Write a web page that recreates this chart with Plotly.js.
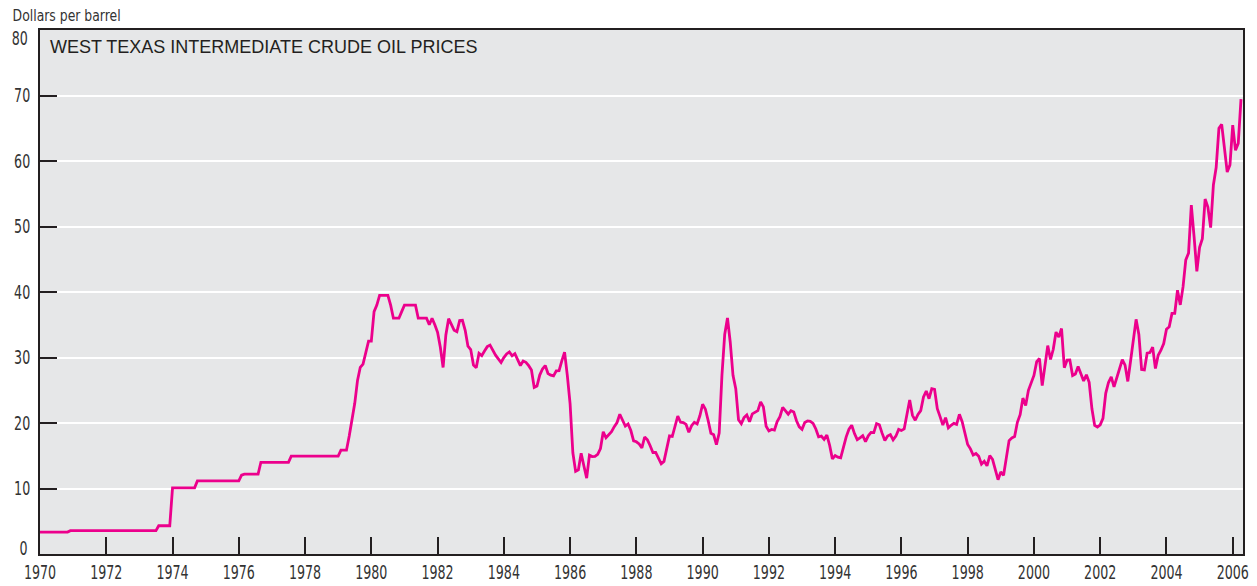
<!DOCTYPE html>
<html>
<head>
<meta charset="utf-8">
<script src="https://cdn.plot.ly/plotly-3.0.1.min.js"></script>
<style>
  html, body { margin: 0; padding: 0; background: #ffffff; }
  #chart { width: 1257px; height: 586px; }
</style>
</head>
<body>
<div id="chart"></div>
<script>
// West Texas Intermediate crude oil price, dollars per barrel, monthly (Jan 1970 - Apr 2006)
const startYear = 1970;
const wti1970s = [
  3.35,3.35,3.35,3.35,3.35,3.35,3.35,3.35,3.35,3.35,3.35,3.56,
  3.56,3.56,3.56,3.56,3.56,3.56,3.56,3.56,3.56,3.56,3.56,3.56,
  3.56,3.56,3.56,3.56,3.56,3.56,3.56,3.56,3.56,3.56,3.56,3.56,
  3.56,3.56,3.56,3.56,3.56,3.56,3.56,4.31,4.31,4.31,4.31,4.31,
  10.11,10.11,10.11,10.11,10.11,10.11,10.11,10.11,10.11,11.16,11.16,11.16,
  11.16,11.16,11.16,11.16,11.16,11.16,11.16,11.16,11.16,11.16,11.16,11.16,
  11.16,12.03,12.2,12.2,12.2,12.2,12.2,12.2,14.0,14.0,14.0,14.0,
  14.0,14.0,14.0,14.0,14.0,14.0,14.0,14.95,14.95,14.95,14.95,14.95,
  14.95,14.95,14.95,14.95,14.95,14.95,14.95,14.95,14.95,14.95,14.95,14.95,
  14.95,15.85,15.85,15.85,18.0,20.3,23.0,26.5,28.5,29.0,31.0,32.5
];
const wti1980s = [
  32.5,37.0,38.0,39.5,39.5,39.5,39.5,38.0,36.0,36.0,36.0,37.0,
  38.0,38.0,38.0,38.0,38.0,36.0,36.0,36.0,36.0,35.0,36.0,35.0,
  33.85,31.56,28.48,33.45,35.93,35.07,34.16,33.95,35.63,35.68,34.15,31.72,
  31.21,28.85,28.44,30.63,30.28,31.0,31.66,31.9,31.1,30.36,29.8,29.24,
  29.98,30.55,30.85,30.26,30.58,29.76,28.77,29.46,29.27,28.75,28.09,25.43,
  25.64,27.32,28.24,28.78,27.56,27.31,27.19,27.96,28.0,29.5,30.81,27.23,
  22.93,15.46,12.61,12.84,15.38,13.43,11.59,15.10,14.87,14.90,15.22,16.11,
  18.65,17.75,18.30,18.68,19.44,20.07,21.34,20.31,19.53,19.86,18.85,17.28,
  17.13,16.80,16.20,17.86,17.42,16.53,15.50,15.52,14.54,13.77,14.14,16.38,
  18.02,17.94,19.48,21.07,20.12,20.05,19.78,18.58,19.59,20.10,19.86,21.10
];
const wti1990s = [
  22.86,22.11,20.39,18.43,18.20,16.70,18.45,27.31,33.51,36.04,32.33,27.28,
  25.23,20.48,19.90,20.83,21.23,20.19,21.40,21.69,21.89,23.23,22.46,19.50,
  18.79,19.01,18.92,20.23,20.98,22.39,21.78,21.34,21.88,21.69,20.34,19.41,
  19.03,20.09,20.32,20.25,19.95,19.09,17.89,18.01,17.50,18.15,16.61,14.52,
  15.03,14.78,14.68,16.42,17.89,19.06,19.66,18.38,17.45,17.72,18.07,17.16,
  18.04,18.57,18.54,19.90,19.74,18.45,17.33,18.02,18.23,17.43,17.99,19.03,
  18.85,19.09,21.33,23.50,21.17,20.42,21.30,21.90,23.97,24.88,23.71,25.23,
  25.13,22.18,20.97,19.70,20.82,19.26,19.66,19.95,19.80,21.33,20.19,18.33,
  16.72,16.06,15.12,15.35,14.91,13.72,14.17,13.47,15.03,14.46,13.00,11.35,
  12.52,12.01,14.68,17.31,17.72,17.92,20.10,21.28,23.80,22.69,25.00,26.10
];
const wti2000s = [
  27.26,29.37,29.84,25.72,28.79,31.82,29.70,31.26,33.88,33.11,34.42,28.44,
  29.59,29.61,27.25,27.49,28.63,27.60,26.43,27.37,26.20,22.17,19.64,19.39,
  19.72,20.72,24.53,26.18,27.04,25.52,26.97,28.39,29.66,28.84,26.35,29.46,
  32.95,35.83,33.51,28.17,28.11,30.66,30.75,31.57,28.31,30.34,31.11,32.13,
  34.31,34.69,36.74,36.75,40.28,38.03,40.78,44.90,45.94,53.28,48.47,43.15,
  46.84,48.15,54.19,52.98,49.83,56.35,59.00,64.99,65.59,62.26,58.32,59.41,
  65.49,61.63,62.69,69.44
];
const xTickYears = [1970,1972,1974,1976,1978,1980,1982,1984,1986,1988,1990,1992,1994,1996,1998,2000,2002,2004,2006];
const yTickVals = [0,10,20,30,40,50,60,70,80];
const yTickText = ['','10','20','30','40','50','60','70',''];
const chartTitle = 'WEST TEXAS INTERMEDIATE CRUDE OIL PRICES';
const unitLabel = 'Dollars per barrel';

const prices = [].concat(wti1970s, wti1980s, wti1990s, wti2000s);
const months = prices.map((_, i) => startYear + i / 12);

const narrow = '"Liberation Sans Narrow", "Arial Narrow", "DejaVu Sans Condensed", sans-serif';
const ink = '#231f20';
const textInk = '#333333';

const trace = {
  x: months, y: prices, type: 'scatter', mode: 'lines',
  line: { color: '#ec008c', width: 2.8, shape: 'linear' },
  hoverinfo: 'skip'
};

const layout = {
  width: 1257, height: 586,
  margin: { l: 40, r: 14, t: 30, b: 32, pad: 0 },
  paper_bgcolor: '#ffffff',
  plot_bgcolor: '#e6e7e8',
  showlegend: false,
  xaxis: {
    range: [1970, 2006.31], fixedrange: true,
    tickmode: 'array', tickvals: xTickYears, ticktext: xTickYears.map(String),
    ticks: 'inside', ticklen: 17, tickwidth: 2, tickcolor: ink,
    showline: true, linecolor: ink, linewidth: 2, mirror: true,
    showgrid: false, zeroline: false,
    tickfont: { family: narrow, size: 19, color: textInk }
  },
  yaxis: {
    range: [0, 80], fixedrange: true,
    tickmode: 'array', tickvals: yTickVals, ticktext: yTickText,
    ticks: 'inside', ticklen: 17, tickwidth: 2, tickcolor: ink,
    showline: true, linecolor: ink, linewidth: 2, mirror: true,
    showgrid: true, gridcolor: '#ffffff', gridwidth: 2, zeroline: false,
    ticklabelstandoff: 4,
    tickfont: { family: narrow, size: 19, color: textInk }
  },
  annotations: [
    { text: chartTitle, xref: 'paper', yref: 'paper', x: 0.0066, y: 0.991,
      xanchor: 'left', yanchor: 'top', showarrow: false,
      font: { family: '"Liberation Sans", Arial, sans-serif', size: 18, color: ink } },
    { text: unitLabel, xref: 'paper', yref: 'paper', x: -0.0233, y: 1.0286, xshift: -10,
      xanchor: 'left', yanchor: 'middle', showarrow: false,
      font: { family: narrow, size: 16, color: textInk } },
    { text: '0', xref: 'paper', yref: 'y', x: -0.011, y: 0, yshift: 6, xshift: 4,
      xanchor: 'right', yanchor: 'middle', showarrow: false,
      font: { family: narrow, size: 19, color: textInk } },
    { text: '80', xref: 'paper', yref: 'y', x: -0.011, y: 80, yshift: -8, xshift: 6,
      xanchor: 'right', yanchor: 'middle', showarrow: false,
      font: { family: narrow, size: 19, color: textInk } }
  ]
};

// Condense label glyphs horizontally (the reference uses a condensed face)
function condense(gd) {
  const squeeze = 0.74;
  gd.querySelectorAll('.xtick text, .ytick text').forEach(t => {
    const w = t.getComputedTextLength();
    if (w > 0) { t.setAttribute('textLength', (w * squeeze).toFixed(2)); t.setAttribute('lengthAdjust', 'spacingAndGlyphs'); }
  });
  gd.querySelectorAll('.annotation-text').forEach(t => {
    const s = t.textContent;
    if (s === chartTitle) return;
    const w = t.getComputedTextLength();
    if (w <= 0) return;
    const target = (s === unitLabel) ? 108 : w * squeeze;
    t.setAttribute('textLength', target.toFixed(2));
    t.setAttribute('lengthAdjust', 'spacingAndGlyphs');
  });
}

Plotly.newPlot('chart', [trace], layout, { displayModeBar: false, staticPlot: true })
  .then(gd => condense(gd));
</script>
</body>
</html>
